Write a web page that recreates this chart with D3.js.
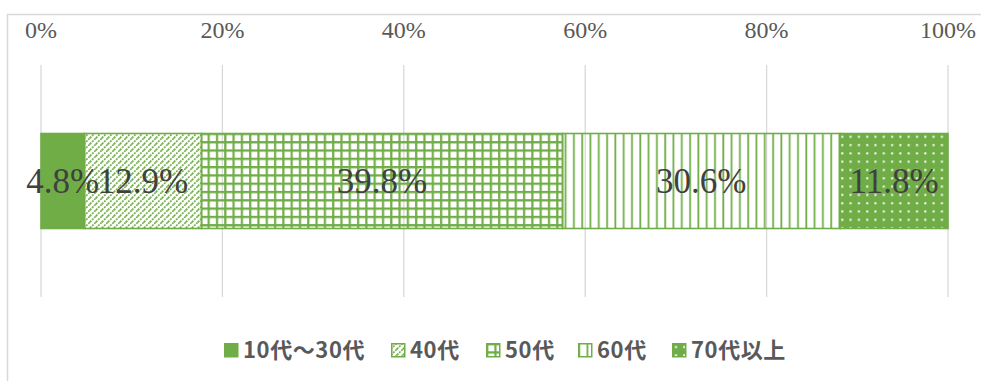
<!DOCTYPE html>
<html>
<head>
<meta charset="utf-8">
<script src="https://cdn.jsdelivr.net/npm/d3@7"></script>
<style>
  body { margin: 0; background: #fff; }
  svg { display: block; }
</style>
</head>
<body>
<svg id="chart" width="981" height="381"></svg>
<script>
// data
const categories = ["10代～30代", "40代", "50代", "60代", "70代以上"];
const shares = [4.8, 12.9, 39.8, 30.6, 11.8];
const tickValues = [0, 20, 40, 60, 80, 100];

const green = "#70ad47";
const svg = d3.select("#chart");

// chart frame
svg.append("rect").attr("x", 7.5).attr("y", 14.5).attr("width", 1000).attr("height", 400)
  .attr("fill", "none").attr("stroke", "#d9d9d9").attr("stroke-width", 1.5);

const x = d3.scaleLinear().domain([0, 100]).range([41, 948]);
const y = d3.scaleBand().domain(["all"]).range([65, 297]).padding(0.419);

// fill patterns, one per category
const defs = svg.append("defs");
function pattern(id, size) {
  return defs.append("pattern").attr("id", id).attr("patternUnits", "userSpaceOnUse")
    .attr("width", size).attr("height", size);
}
// wide upward diagonal
let p = pattern("p40", 6);
p.append("path").attr("d", "M0,6 L6,0 M-1,1 L1,-1 M5,7 L7,5")
  .attr("stroke", green).attr("stroke-width", 1.6).attr("stroke-dasharray", "2,1");
// large grid
p = pattern("p50", 8.3);
p.append("path").attr("d", "M1.2,0 V8.3 M0,1.2 H8.3").attr("stroke", green).attr("stroke-width", 2.2);
// wide vertical
p = pattern("p60", 8.3);
p.append("path").attr("d", "M1.2,0 V8.3").attr("stroke", green).attr("stroke-width", 1.8);
// dotted on green
p = pattern("p70", 8.3);
p.append("rect").attr("width", 8.3).attr("height", 8.3).attr("fill", green);
p.append("rect").attr("x", 3).attr("y", 3).attr("width", 2).attr("height", 2).attr("fill", "#fff");

const fills = [green, "url(#p40)", "url(#p50)", "url(#p60)", "url(#p70)"];

// gridlines
svg.append("g").selectAll("line").data(tickValues).join("line")
  .attr("x1", d => x(d)).attr("x2", d => x(d))
  .attr("y1", 65).attr("y2", 297)
  .attr("stroke", "#d9d9d9").attr("stroke-width", 1.3);

// tick labels on top
svg.append("g").selectAll("text").data(tickValues).join("text")
  .attr("x", d => x(d)).attr("y", 38)
  .attr("text-anchor", "middle")
  .attr("font-family", "'Liberation Serif', serif").attr("font-size", 24)
  .attr("fill", "#595959")
  .text(d => d + "%");

// stacked segments
let acc = 0;
const segs = shares.map((v, i) => {
  const s = { cat: categories[i], v: v, x0: acc, x1: acc + v, fill: fills[i] };
  acc += v;
  return s;
});
// last one fills to 100
segs[segs.length - 1].x1 = 100;

const bars = svg.append("g");
bars.selectAll("rect").data(segs).join("rect")
  .attr("x", d => x(d.x0)).attr("width", d => x(d.x1) - x(d.x0))
  .attr("y", y("all")).attr("height", y.bandwidth())
  .attr("fill", d => d.fill)
  .attr("stroke", green).attr("stroke-width", 1.6);

bars.selectAll("text").data(segs).join("text")
  .attr("x", d => (x(d.x0) + x(d.x1)) / 2)
  .attr("y", y("all") + y.bandwidth() / 2 + 12)
  .attr("text-anchor", "middle")
  .attr("font-family", "'Liberation Serif', serif").attr("font-size", 35)
  .attr("fill", "#404040")
  .text(d => d.v.toFixed(1) + "%");

// legend
const legendX = [224, 391, 486, 578, 672];
const leg = svg.append("g").selectAll("g").data(segs).join("g")
  .attr("transform", (d, i) => `translate(${legendX[i]},343)`);
leg.append("rect").attr("x", 0.75).attr("y", 0.75).attr("width", 13).attr("height", 13)
  .attr("fill", d => d.fill).attr("stroke", green).attr("stroke-width", 1.5);
leg.append("text").attr("x", 19).attr("y", 15)
  .attr("font-family", "'Noto Sans CJK JP', sans-serif").attr("font-size", 22)
  .attr("font-weight", 700).attr("letter-spacing", 0.6)
  .attr("fill", "#595959")
  .text(d => d.cat);
</script>
</body>
</html>
